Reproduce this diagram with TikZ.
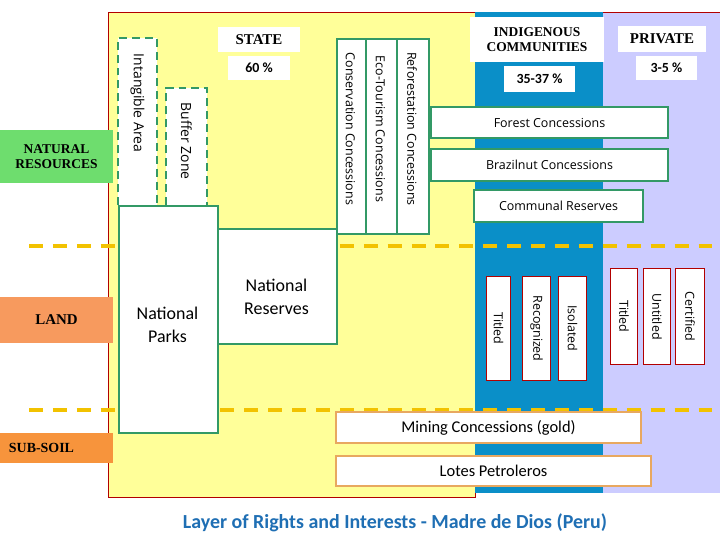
\documentclass[tikz,border=0pt]{standalone}
\usepackage{fontspec}
\setmainfont{Liberation Serif}
\newfontfamily\calfnt{Carlito}
\newfontfamily\osans{Open Sans}
\definecolor{yel}{HTML}{FFFF99}
\definecolor{blu}{HTML}{0A8FC8}
\definecolor{lav}{HTML}{CCCCFF}
\definecolor{grn}{HTML}{339966}
\definecolor{dsh}{HTML}{F2C200}
\definecolor{nrg}{HTML}{6EDD6E}
\definecolor{lnd}{HTML}{F79A5E}
\definecolor{sub}{HTML}{F7943C}
\definecolor{ttl}{HTML}{1F6FB4}
\definecolor{orb}{HTML}{E8A860}
\begin{document}
\begin{tikzpicture}[x=1bp,y=-1bp,
  gbox/.style={draw=grn,line width=2pt,fill=white},
  rbox/.style={draw=red!70!black,line width=1pt,fill=white},
  obox/.style={draw=orb,line width=2pt,fill=white},
  lbl/.style={font=\bfseries\fontsize{15}{17}\selectfont,align=center},
  pct/.style={fill=white,font=\calfnt\bfseries\fontsize{14}{16}\selectfont},
  rot/.style={rotate=-90,font=\osans\fontsize{12.5}{14}\selectfont},
  dashl/.style={dsh,line width=4pt,dash pattern=on 14pt off 10pt}]
\useasboundingbox (0,0) rectangle (720,540);
\fill[white] (0,0) rectangle (720,540);
\fill[yel,draw=red!70!black,line width=0.6pt] (108,12) rectangle (475,497);
\fill[blu] (475,12) rectangle (603,493);
\fill[lav] (603,12) rectangle (720,493);
\draw[red!70!black,line width=0.6pt] (603,12) -- (720,12);
% dashed lines
\draw[dashl] (29,246) -- (720,246);
\draw[dashl] (29,410) -- (720,410);
% left labels
\node[fill=nrg,minimum width=113bp,minimum height=53bp,align=center,font=\bfseries\fontsize{13.5}{15}\selectfont,inner sep=0] (nr) at (56.5,156.5) {NATURAL\\RESOURCES};
\node[fill=lnd,minimum width=113bp,minimum height=46bp,lbl,inner sep=0] (land) at (56.5,320) {LAND};
\node[fill=sub,minimum width=113bp,minimum height=30bp,lbl,font=\bfseries\fontsize{14}{16}\selectfont,inner sep=0,align=left] (sub) at (56.5,448) {SUB-SOIL\hspace*{30bp}};
% state dashed boxes
\draw[gbox,dash pattern=on 8pt off 5pt,line width=2.5pt] (118,205) -- (118,38) -- (157,38) -- (157,205);
\node[rot,font=\osans\fontsize{14}{16}\selectfont] (ia) at (137.5,103) {Intangible Area};
\draw[gbox,dash pattern=on 8pt off 5pt,line width=2.5pt] (166,205) -- (166,88) -- (207,88) -- (207,205);
\node[rot,font=\osans\fontsize{14}{16}\selectfont] (bz) at (186.5,141) {Buffer Zone};
\node[gbox,minimum width=99bp,minimum height=227bp,anchor=north west,inner sep=0] (np) at (118,205) {};
\node[font=\calfnt\fontsize{18}{23}\selectfont,align=center] (npt) at (167.5,325) {National\\Parks};
\node[gbox,minimum width=119bp,minimum height=115bp,anchor=north west,inner sep=0] (nrv) at (217,228) {};
\node[font=\calfnt\fontsize{18}{23}\selectfont,align=center] (nrt) at (276.5,297) {National\\Reserves};
% concessions
\node[gbox,minimum width=29bp,minimum height=195bp,anchor=north west,inner sep=0] (cc) at (336,38) {};
\node[gbox,minimum width=31bp,minimum height=195bp,anchor=north west,inner sep=0] (ec) at (365,38) {};
\node[gbox,minimum width=32bp,minimum height=195bp,anchor=north west,inner sep=0] (rc) at (396,38) {};
\node[rot] at (350.5,129) {Conservation Concessions};
\node[rot] at (380.5,129) {Eco-Tourism Concessions};
\node[rot] at (412,129) {Reforestation Concessions};
% headers
\node[fill=white,lbl,minimum width=82bp,minimum height=25bp,inner sep=0] (st) at (259,39.5) {STATE};
\node[pct,minimum width=62bp,minimum height=24bp,inner sep=0] (p1) at (259,68) {60 \%};
\node[fill=white,align=center,font=\bfseries\fontsize{13.5}{15}\selectfont,minimum width=134bp,minimum height=45bp,inner sep=0] (ic) at (537,39.5) {INDIGENOUS\\COMMUNITIES};
\node[pct,minimum width=71bp,minimum height=26bp,inner sep=0] (p2) at (539.5,79) {35-37 \%};
\node[fill=white,lbl,minimum width=88bp,minimum height=26bp,inner sep=0] (pr) at (662,39) {PRIVATE};
\node[pct,minimum width=61bp,minimum height=24bp,inner sep=0] (p3) at (666.5,68) {3-5 \%};
% horizontal concessions
\node[gbox,minimum width=237bp,minimum height=31bp,inner sep=0,font=\osans\fontsize{12.5}{14}\selectfont] (fc) at (549.5,122.5) {Forest Concessions};
\node[gbox,minimum width=237bp,minimum height=32bp,inner sep=0,font=\osans\fontsize{12.5}{14}\selectfont] (bc) at (549.5,165) {Brazilnut Concessions};
\node[gbox,minimum width=169bp,minimum height=32bp,inner sep=0,font=\osans\fontsize{12.5}{14}\selectfont] (cr) at (558.5,206) {Communal Reserves};
% vertical small boxes
\node[rbox,minimum width=24bp,minimum height=104bp,anchor=north west,inner sep=0] (t1) at (486,276) {};
\node[rbox,minimum width=28bp,minimum height=104bp,anchor=north west,inner sep=0] (r1) at (522,276) {};
\node[rbox,minimum width=28bp,minimum height=104bp,anchor=north west,inner sep=0] (i1) at (558,276) {};
\node[rot] at (t1.center) {Titled};
\node[rot] at (r1.center) {Recognized};
\node[rot] at (i1.center) {Isolated};
\node[rbox,minimum width=27bp,minimum height=96bp,anchor=north west,inner sep=0] (t2) at (610,268) {};
\node[rbox,minimum width=27bp,minimum height=96bp,anchor=north west,inner sep=0] (u2) at (643,268) {};
\node[rbox,minimum width=29bp,minimum height=96bp,anchor=north west,inner sep=0] (c2) at (675,268) {};
\node[rot] at (t2.center) {Titled};
\node[rot] at (u2.center) {Untitled};
\node[rot] at (c2.center) {Certified};
% subsoil
\node[obox,minimum width=305bp,minimum height=31bp,inner sep=0,font=\calfnt\fontsize{16.5}{18}\selectfont] (mc) at (488.5,427.5) {Mining Concessions (gold)};
\node[obox,minimum width=315bp,minimum height=30bp,inner sep=0,font=\calfnt\fontsize{16.5}{18}\selectfont] (lp) at (493.5,471) {Lotes Petroleros};
\node[text=ttl,font=\calfnt\bfseries\fontsize{20}{23}\selectfont] (title) at (395,523) {Layer of Rights and Interests - Madre de Dios (Peru)};
\end{tikzpicture}
\end{document}
